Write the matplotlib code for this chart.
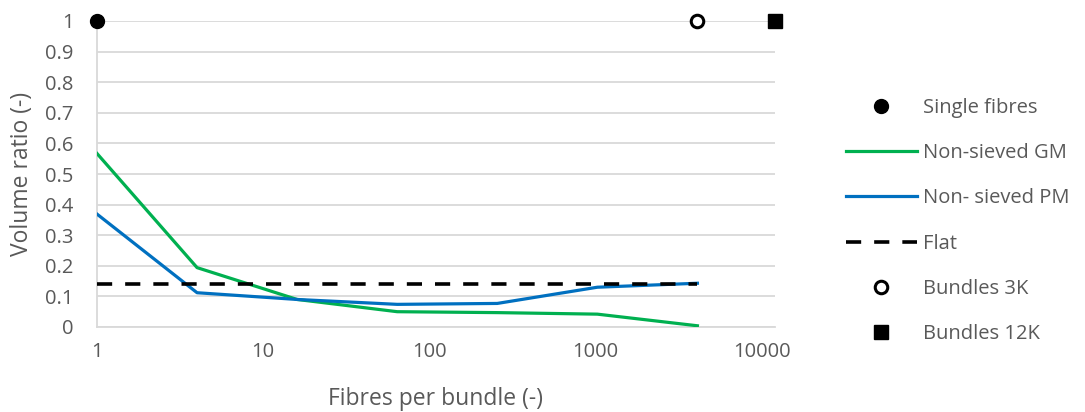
import matplotlib
matplotlib.use("Agg")
import matplotlib.pyplot as plt
from matplotlib.ticker import FixedLocator, FixedFormatter, NullLocator

# data
fibres = [1, 4, 16, 64, 256, 1024, 4096]
gm_ratio = [0.567, 0.194, 0.090, 0.050, 0.047, 0.042, 0.004]
pm_ratio = [0.369, 0.112, 0.090, 0.074, 0.077, 0.130, 0.143]
flat_x = [1, 4096]
flat_ratio = [0.1415, 0.1415]
single_x, single_y = [1], [1.0]
b3k_x, b3k_y = [4096], [1.0]
b12k_x, b12k_y = [12000], [1.0]

x_ticks = [1, 10, 100, 1000, 10000]
x_tick_labels = ["1", "10", "100", "1000", "10000"]
y_ticks = [i / 10 for i in range(11)]
y_tick_labels = ["0"] + [f"{v:.1f}" for v in y_ticks[1:-1]] + ["1"]

text_col = "#595959"
grid_col = "#d9d9d9"
green = "#00b050"
blue = "#0070c0"

plt.rcParams["font.family"] = ["Open Sans", "DejaVu Sans"]

fig = plt.figure(figsize=(10.85, 4.12), dpi=100)
W, H = 1085, 412
ax = fig.add_axes([97 / W, (H - 327) / H, (775 - 97) / W, (327 - 21) / H])

ax.set_xscale("log")
ax.set_xlim(1, 12000)
ax.set_ylim(0, 1)

ax.plot(single_x, single_y, "o", color="black", markersize=10, clip_on=False,
        zorder=5, label="Single fibres")
ax.plot(fibres, gm_ratio, color=green, lw=2.3, label="Non-sieved GM", zorder=3)
ax.plot(fibres, pm_ratio, color=blue, lw=2.3, label="Non- sieved PM", zorder=3)
ax.plot(flat_x, flat_ratio, color="black", lw=2.6, dashes=(4.2, 3.6),
        label="Flat", zorder=4)
ax.plot(b3k_x, b3k_y, "o", markerfacecolor="white", markeredgecolor="black",
        markeredgewidth=2.2, markersize=9, clip_on=False, zorder=5,
        label="Bundles 3K")
ax.plot(b12k_x, b12k_y, "s", color="black", markersize=9.5, clip_on=False,
        zorder=5, label="Bundles 12K")

ax.xaxis.set_major_locator(FixedLocator(x_ticks))
ax.xaxis.set_major_formatter(FixedFormatter(x_tick_labels))
ax.xaxis.set_minor_locator(NullLocator())
ax.set_yticks(y_ticks)
ax.set_yticklabels(y_tick_labels)

ax.grid(True, axis="y", color=grid_col, lw=1.3)
ax.set_axisbelow(True)
for side in ["top", "right"]:
    ax.spines[side].set_visible(False)
for side in ["left", "bottom"]:
    ax.spines[side].set_color(grid_col)
    ax.spines[side].set_linewidth(1.3)

ax.tick_params(axis="both", length=0, labelsize=14.5, colors=text_col)
ax.tick_params(axis="x", pad=11)
ax.tick_params(axis="y", pad=17)

ax.set_xlabel("Fibres per bundle (-)", fontsize=16.5, color=text_col, labelpad=18)
ax.set_ylabel("Volume ratio (-)", fontsize=16.5, color=text_col, labelpad=8)

leg = ax.legend(loc="upper left", bbox_to_anchor=(828 / W, 1 - 80 / H),
                bbox_transform=fig.transFigure, frameon=False, fontsize=14.5,
                handlelength=3.5, handletextpad=0.3, labelspacing=1.25)
for t in leg.get_texts():
    t.set_color(text_col)

fig.savefig("out.png", dpi=100)
